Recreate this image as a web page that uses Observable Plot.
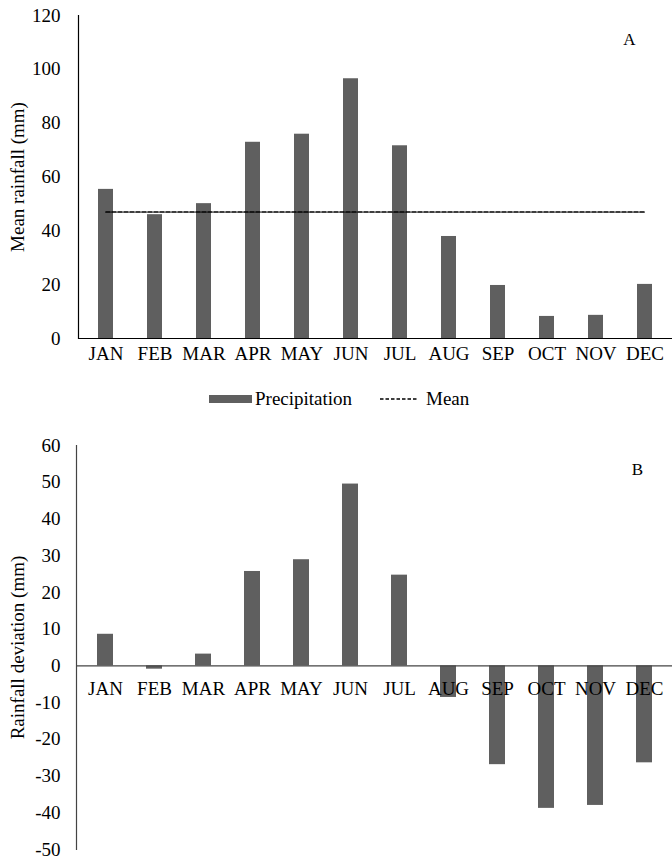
<!DOCTYPE html>
<html><head><meta charset="utf-8">
<script src="https://cdn.jsdelivr.net/npm/d3@7"></script>
<script src="https://cdn.jsdelivr.net/npm/@observablehq/plot@0.6"></script>
<style>
body{margin:0;background:#fff;color:#000;}
#wrap, #wrap svg, #wrap text, #wrap span{font-family:"Liberation Serif","Times New Roman","DejaVu Serif",serif !important;}
#wrap{width:672px;}
#legend{position:relative;height:50px;width:672px;font-size:19px;}
#legend .sw{position:absolute;left:209px;top:15px;width:43px;height:8px;background:#5f5f5f;}
#legend .t{position:absolute;top:8px;line-height:22px;white-space:nowrap;}
#legend svg{position:absolute;left:380px;top:14px;}
svg{display:block;}
</style></head><body>
<div id="wrap"><div id="a"></div>
<div id="legend"><div class="sw"></div><span class="t" style="left:255px">Precipitation</span>
<svg width="40" height="10"><line x1="0" x2="38" y1="5" y2="5" stroke="#000" stroke-width="1.6" stroke-dasharray="3.5,2"></line></svg>
<span class="t" style="left:426px">Mean</span></div>
<div id="b"></div></div>
<script>
const months = ["JAN","FEB","MAR","APR","MAY","JUN","JUL","AUG","SEP","OCT","NOV","DEC"];
const rainfall = [55.4,46.0,50.1,72.9,75.9,96.5,71.6,37.9,19.7,8.2,8.6,20.1];
const meanRain = 47.0;
const deviation = [8.6,-0.9,3.2,25.7,28.9,49.5,24.7,-8.6,-26.9,-38.8,-38.0,-26.4];
const ticksA = [0,20,40,60,80,100,120];
const ticksB = [-50,-40,-30,-20,-10,0,10,20,30,40,50,60];
const titleA = "Mean rainfall (mm)";
const titleB = "Rainfall deviation (mm)";

const dataA = months.map((m,i)=>({m, v: rainfall[i]}));
const dataB = months.map((m,i)=>({m, v: deviation[i]}));
const barColor = "#5f5f5f";
const font = "Liberation Serif, Times New Roman, serif";

const chartA = Plot.plot({
  width: 672, height: 380,
  marginTop: 15, marginBottom: 42, marginLeft: 78, marginRight: 0,
  style: {fontFamily: font, fontSize: "19px", background: "#fff", color: "#000"},
  x: {domain: months, paddingInner: 0.69, paddingOuter: 0.345, axis: null},
  y: {domain: [0,120]},
  marks: [
    Plot.barY(dataA, {x: "m", y: "v", fill: barColor}),
    Plot.lineY(dataA, {x: "m", y: () => meanRain, stroke: "#000", strokeWidth: 1.7, strokeDasharray: "4,2"}),
    Plot.ruleY([0], {stroke: "#000", strokeWidth: 1.2}),
    Plot.frame({anchor: "left", stroke: "#000", strokeWidth: 1.2}),
    Plot.axisY({ticks: ticksA, tickSize: 0, tickPadding: 18, tickFormat: d => String(d), fontSize: 19, label: null}),
    Plot.text(months, {x: d => d, y: () => 0, dy: 15, fontSize: 19, fill: "#000"}),
    Plot.text([titleA], {frameAnchor: "left", textAnchor: "middle", rotate: -90, dx: -61, fontSize: 19, fill: "#000"}),
    Plot.text(["A"], {frameAnchor: "top-right", textAnchor: "middle", dx: -43, dy: 17, fontSize: 17, fill: "#000"})
  ]
});
document.getElementById("a").append(chartA);

const chartB = Plot.plot({
  width: 672, height: 430,
  marginTop: 15, marginBottom: 11, marginLeft: 76, marginRight: 0,
  style: {fontFamily: font, fontSize: "19px", background: "#fff", color: "#000"},
  x: {domain: months, paddingInner: 0.68, paddingOuter: 0.34, axis: null},
  y: {domain: [-50,60]},
  marks: [
    Plot.barY(dataB, {x: "m", y: "v", fill: barColor}),
    Plot.ruleY([0], {stroke: "#444", strokeWidth: 1.2}),
    Plot.frame({anchor: "left", stroke: "#444", strokeWidth: 1.2}),
    Plot.axisY({ticks: ticksB, tickSize: 0, tickPadding: 16, tickFormat: d => String(d), fontSize: 19, label: null}),
    Plot.text(months, {x: d => d, y: () => 0, dy: 23, fontSize: 19, fill: "#000"}),
    Plot.text([titleB], {frameAnchor: "left", textAnchor: "middle", rotate: -90, dx: -59, fontSize: 19, fill: "#000"}),
    Plot.text(["B"], {frameAnchor: "top-right", textAnchor: "middle", dx: -35, dy: 17, fontSize: 17, fill: "#000"})
  ]
});
document.getElementById("b").append(chartB);
</script>
</body></html>
